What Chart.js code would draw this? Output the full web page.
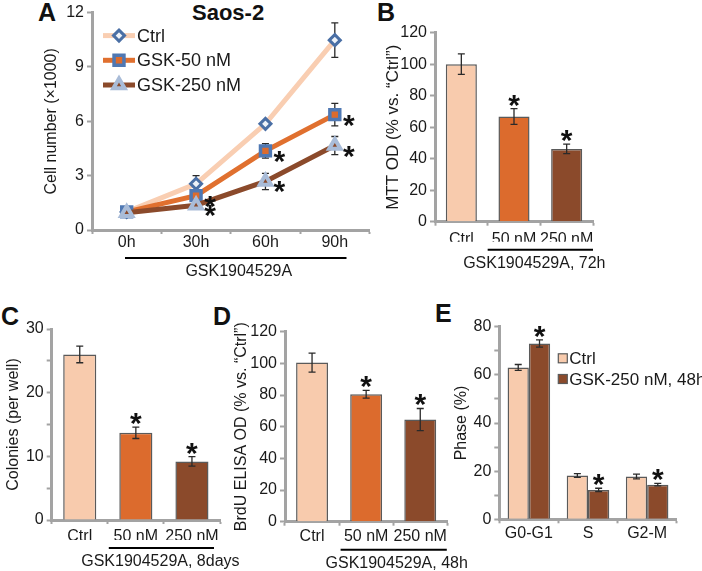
<!DOCTYPE html>
<html>
<head>
<meta charset="utf-8">
<script src="https://cdn.jsdelivr.net/npm/chart.js@4.4.0/dist/chart.umd.min.js"></script>
<style>
  body { margin: 0; background: #fff; width: 702px; height: 571px; position: relative; overflow: hidden;
         font-family: "Liberation Sans", Arial, sans-serif; }
  canvas { position: absolute; }
  .tag { position: absolute; font-weight: bold; font-size: 25px; line-height: 1; color: #111; }
</style>
</head>
<body>
<div class="tag" style="left:38px;top:0px">A</div>
<div class="tag" style="left:192px;top:2px;font-size:22px">Saos-2</div>
<div class="tag" style="left:377px;top:0px">B</div>
<div class="tag" style="left:1px;top:304px">C</div>
<div class="tag" style="left:213px;top:304px">D</div>
<div class="tag" style="left:435px;top:301px">E</div>

<canvas id="chartA" width="380" height="285" style="left:0;top:0"></canvas>
<canvas id="chartB" width="250" height="285" style="left:360px;top:0"></canvas>
<canvas id="chartC" width="250" height="286" style="left:0;top:285px"></canvas>
<canvas id="chartD" width="260" height="286" style="left:225px;top:285px"></canvas>
<canvas id="chartE" width="262" height="286" style="left:440px;top:285px"></canvas>

<script>
// ---- data ----
const timeLabels = ['0h', '30h', '60h', '90h'];
const ctrlCells = [1.0, 2.55, 5.86, 10.48];
const ctrlCellsErr = [0.1, 0.45, 0.15, 0.95];
const gsk50Cells = [1.0, 1.9, 4.37, 6.37];
const gsk50CellsErr = [0.1, 0.2, 0.4, 0.62];
const gsk250Cells = [0.95, 1.37, 2.68, 4.66];
const gsk250CellsErr = [0.1, 0.15, 0.45, 0.5];
const sigCells = [false, true, true, true];

const doseLabels = ['Ctrl', '50 nM', '250 nM'];
const mttValues = [100, 66.8, 46.2];
const mttErr = [6.5, 5, 3];
const colonyValues = [26.0, 13.7, 9.2];
const colonyErr = [1.3, 0.9, 0.75];
const brduValues = [100.5, 80.5, 64.5];
const brduErr = [6, 2.5, 7];
const doseSig = [false, true, true];

const phaseLabels = ['G0-G1', 'S', 'G2-M'];
const phaseCtrl = [63.1, 18.2, 17.8];
const phaseCtrlErr = [1.2, 0.8, 1.0];
const phaseGsk = [73.0, 12.2, 14.4];
const phaseGskErr = [1.5, 0.7, 0.5];
const phaseCtrlSig = [false, false, false];
const phaseGskSig = [true, true, true];

// ---- style ----
const FONT = '"Liberation Sans", Arial, sans-serif';
const AXIS = '#a3a3a3';
const TEXT = '#1a1a1a';
const EDGE = '#5a5a5a';
const PEACH = '#f8cbad';
const ORANGE = '#dc6b2d';
const BROWN = '#8b4a2b';
const DOSE_COLORS = [PEACH, ORANGE, BROWN];

Chart.defaults.font.family = FONT;
Chart.defaults.color = TEXT;
Chart.defaults.animation = false;
Chart.defaults.events = [];
Chart.defaults.plugins.legend.display = false;
Chart.defaults.plugins.tooltip.enabled = false;

function yScale(min, max, step, labelEvery, title, titleSize, titlePad, yWidth) {
  return {
    min, max,
    ticks: { stepSize: step, font: { size: 16 }, color: TEXT, padding: 3,
      callback: v => (v % labelEvery === 0 ? v : '') },
    grid: { drawOnChartArea: false, tickLength: 5, tickColor: AXIS, tickWidth: 2 },
    border: { color: AXIS, width: 3 },
    title: { display: true, text: title, color: TEXT, font: { size: titleSize },
      padding: { top: titlePad, bottom: 0 } },
    afterFit: s => { s.width = yWidth; }
  };
}

function xScale(labelPad) {
  return {
    offset: true,
    ticks: { font: { size: 16 }, color: TEXT, padding: labelPad, maxRotation: 0, autoSkip: false },
    grid: { offset: true, drawOnChartArea: false, tickLength: 4, tickColor: AXIS, tickWidth: 2 },
    border: { color: AXIS, width: 3 },
    afterFit: s => { s.height = 20; }
  };
}

function drawStar(ctx, x, y) {
  ctx.save();
  ctx.font = 'bold 30px ' + FONT;
  ctx.fillStyle = '#111';
  ctx.textAlign = 'center';
  ctx.textBaseline = 'alphabetic';
  ctx.fillText('*', x, y + 17);
  ctx.restore();
}

function drawErr(ctx, x, yTop, yBot, cap) {
  ctx.beginPath();
  ctx.moveTo(x, yTop); ctx.lineTo(x, yBot);
  ctx.moveTo(x - cap, yTop); ctx.lineTo(x + cap, yTop);
  ctx.moveTo(x - cap, yBot); ctx.lineTo(x + cap, yBot);
  ctx.stroke();
}

function drawMarker(ctx, kind, x, y, r, fill, stroke, bw) {
  ctx.save();
  ctx.beginPath();
  if (kind === 'rectRot') {
    ctx.moveTo(x, y - r); ctx.lineTo(x + r, y); ctx.lineTo(x, y + r); ctx.lineTo(x - r, y);
  } else if (kind === 'rect') {
    const h = r * Math.SQRT1_2;
    ctx.rect(x - h, y - h, 2 * h, 2 * h);
  } else {
    const s = r * Math.sqrt(3) / 2;
    ctx.moveTo(x, y - r); ctx.lineTo(x + s, y + r / 2); ctx.lineTo(x - s, y + r / 2);
  }
  ctx.closePath();
  ctx.fillStyle = fill; ctx.fill();
  ctx.lineWidth = bw; ctx.strokeStyle = stroke; ctx.stroke();
  ctx.restore();
}

// underline + caption below a group of categories
function bracket(fromIdx, toIdx, insetL, insetR, text, textDx) {
  return {
    id: 'bracket',
    afterDraw(chart) {
      const x = chart.scales.x, ctx = chart.ctx;
      const half = (x.getPixelForValue(1) - x.getPixelForValue(0)) / 2;
      const x1 = x.getPixelForValue(fromIdx) - half + insetL;
      const x2 = x.getPixelForValue(toIdx) + half - insetR;
      const yb = chart.chartArea.bottom + 28;
      ctx.save();
      ctx.strokeStyle = '#000'; ctx.lineWidth = 2;
      ctx.beginPath(); ctx.moveTo(x1, yb); ctx.lineTo(x2, yb); ctx.stroke();
      ctx.font = '16px ' + FONT; ctx.fillStyle = TEXT;
      ctx.textAlign = 'center'; ctx.textBaseline = 'middle';
      ctx.fillText(text, (x1 + x2) / 2 + textDx, yb + 14);
      ctx.restore();
    }
  };
}

// error bars and significance stars on bars
function barExtras(errSets, sigSets) {
  return {
    id: 'barExtras',
    afterDatasetsDraw(chart) {
      const ctx = chart.ctx, y = chart.scales.y;
      ctx.save();
      ctx.strokeStyle = '#2a2a2a'; ctx.lineWidth = 1.3;
      chart.data.datasets.forEach((ds, d) => {
        chart.getDatasetMeta(d).data.forEach((bar, i) => {
          const v = ds.data[i], e = errSets[d][i];
          const top = y.getPixelForValue(v + e);
          drawErr(ctx, bar.x, top, y.getPixelForValue(v - e), 3.5);
          if (sigSets[d][i]) drawStar(ctx, bar.x, top - 11);
        });
      });
      ctx.restore();
    }
  };
}

// ---- A: growth curve ----
const seriesA = [
  { label: 'Ctrl', data: ctrlCells, err: ctrlCellsErr, sig: null, line: '#f9ceb2',
    kind: 'rectRot', r: 5.5, fill: '#eef2f8', stroke: '#4a6fa5', bw: 3 },
  { label: 'GSK-50 nM', data: gsk50Cells, err: gsk50CellsErr, sig: sigCells, line: '#e0702f',
    kind: 'rect', r: 7, fill: ORANGE, stroke: '#4f78b3', bw: 3.5 },
  { label: 'GSK-250 nM', data: gsk250Cells, err: gsk250CellsErr, sig: sigCells, line: BROWN,
    kind: 'triangle', r: 6.5, fill: BROWN, stroke: '#a9bcd8', bw: 4 }
];

new Chart(document.getElementById('chartA'), {
  type: 'line',
  data: {
    labels: timeLabels,
    datasets: seriesA.map((s, k) => ({
      label: s.label, data: s.data, borderColor: s.line, borderWidth: 5, tension: 0,
      pointStyle: s.kind, pointRadius: s.r, pointBackgroundColor: s.fill,
      pointBorderColor: s.stroke, pointBorderWidth: s.bw, order: 3 - k
    }))
  },
  options: {
    responsive: false,
    layout: { padding: { left: 0, top: 10, right: 7, bottom: 35 } },
    scales: {
      x: xScale(-1),
      y: yScale(0, 12, 3, 3, 'Cell number (×1000)', 16, 42, 92)
    }
  },
  plugins: [{
    id: 'errA',
    beforeDatasetsDraw(chart) {
      const ctx = chart.ctx, y = chart.scales.y;
      ctx.save();
      ctx.strokeStyle = '#2a2a2a'; ctx.lineWidth = 1.3;
      seriesA.forEach((s, d) => {
        chart.getDatasetMeta(d).data.forEach((pt, i) => {
          drawErr(ctx, pt.x, y.getPixelForValue(s.data[i] + s.err[i]), y.getPixelForValue(s.data[i] - s.err[i]), 3.5);
        });
      });
      ctx.restore();
    },
    afterDatasetsDraw(chart) {
      const ctx = chart.ctx, area = chart.chartArea;
      seriesA.forEach((s, d) => {
        if (!s.sig) return;
        chart.getDatasetMeta(d).data.forEach((pt, i) => {
          if (s.sig[i]) drawStar(ctx, pt.x + 14, pt.y + 3);
        });
      });
      // legend
      ctx.save();
      ctx.font = '18px ' + FONT; ctx.fillStyle = TEXT; ctx.textBaseline = 'middle';
      seriesA.forEach((s, k) => {
        const ly = area.top + 23 + k * 24.7, lx = area.left + 11;
        ctx.strokeStyle = s.line; ctx.lineWidth = 5;
        ctx.beginPath(); ctx.moveTo(lx, ly); ctx.lineTo(lx + 32, ly); ctx.stroke();
        drawMarker(ctx, s.kind, lx + 16, ly, s.r, s.fill, s.stroke, s.bw);
        ctx.fillStyle = TEXT;
        ctx.fillText(s.label, lx + 34, ly + 1);
      });
      ctx.restore();
    }
  }, bracket(0, 3, 33, 23, 'GSK1904529A', 3)]
});

// ---- B, C, D: single-series bar panels ----
function dosePanel(id, values, errs, yOpts, pad, labelPad, note, bracketArgs) {
  new Chart(document.getElementById(id), {
    type: 'bar',
    data: {
      labels: doseLabels,
      datasets: [{ data: values, backgroundColor: DOSE_COLORS, borderColor: EDGE, borderWidth: 1.5,
        barPercentage: 0.59, categoryPercentage: 1 }]
    },
    options: {
      responsive: false,
      layout: { padding: pad },
      scales: { x: xScale(labelPad), y: yOpts }
    },
    plugins: [barExtras([errs], [doseSig]), bracket(1, 2, bracketArgs[0], bracketArgs[1], note, bracketArgs[2])]
  });
}

dosePanel('chartB', mttValues, mttErr,
  yScale(0, 120, 20, 20, 'MTT OD (% vs. “Ctrl”)', 17, 23, 75),
  { left: 0, top: 32.7, right: 17, bottom: 43.3 }, 4, 'GSK1904529A, 72h', [0, 0, -6]);

dosePanel('chartC', colonyValues, colonyErr,
  yScale(0, 30, 5, 10, 'Colonies (per well)', 16, 4, 51.7),
  { left: 0, top: 44, right: 30, bottom: 31 }, 3.4, 'GSK1904529A, 8days', [1, 6, -1]);

dosePanel('chartD', brduValues, brduErr,
  yScale(0, 120, 20, 20, 'BrdU ELISA OD (% vs. “Ctrl”)', 16, 7.4, 60),
  { left: 0, top: 46.7, right: 37.7, bottom: 29.3 }, 1.7, 'GSK1904529A, 48h', [1.5, 0.5, 3]);

// ---- E: cell cycle phases ----
const legendE = [
  { label: 'Ctrl', color: PEACH },
  { label: 'GSK-250 nM, 48h', color: BROWN }
];

new Chart(document.getElementById('chartE'), {
  type: 'bar',
  data: {
    labels: phaseLabels,
    datasets: [
      { data: phaseCtrl, backgroundColor: PEACH, borderColor: EDGE, borderWidth: 1.5,
        barPercentage: 1, categoryPercentage: 0.72 },
      { data: phaseGsk, backgroundColor: BROWN, borderColor: EDGE, borderWidth: 1.5,
        barPercentage: 1, categoryPercentage: 0.72 }
    ]
  },
  options: {
    responsive: false,
    layout: { padding: { left: 0, top: 41.7, right: 25.3, bottom: 31.7 } },
    scales: {
      x: xScale(1.1),
      y: yScale(0, 80, 10, 20, 'Phase (%)', 16, 12, 59.3)
    }
  },
  plugins: [barExtras([phaseCtrlErr, phaseGskErr], [phaseCtrlSig, phaseGskSig]), {
    id: 'legendE',
    afterDraw(chart) {
      const ctx = chart.ctx, area = chart.chartArea;
      ctx.save();
      ctx.font = '17px ' + FONT; ctx.textBaseline = 'middle';
      legendE.forEach((item, k) => {
        const bx = area.left + 59, by = area.top + 31.6 + k * 20.7;
        ctx.fillStyle = item.color;
        ctx.fillRect(bx, by - 4.5, 9, 9);
        ctx.strokeStyle = EDGE; ctx.lineWidth = 1.2;
        ctx.strokeRect(bx, by - 4.5, 9, 9);
        ctx.fillStyle = TEXT;
        ctx.fillText(item.label, bx + 11, by + 1);
      });
      ctx.restore();
    }
  }]
});
</script>
</body>
</html>
